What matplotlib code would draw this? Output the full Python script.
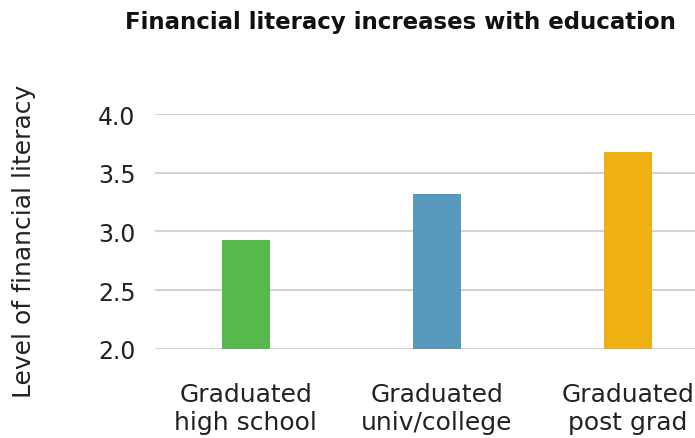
import matplotlib.pyplot as plt

plt.rcParams["font.family"] = ["DejaVu Sans"]

categories = ["Graduated\nhigh school", "Graduated\nuniv/college", "Graduated\npost grad"]
values = [2.93, 3.32, 3.68]
colors = ["#57b84b", "#5899be", "#eeb111"]
yticks = [2.0, 2.5, 3.0, 3.5, 4.0]

fig = plt.figure(figsize=(6.95, 4.39), dpi=100)
ax = fig.add_axes([0.223, 0.2034, 0.777, 0.5346])

x = range(len(categories))
ax.bar(x, values, width=0.25, color=colors, zorder=3)

ax.set_ylim(2.0, 4.0)
ax.set_xlim(-0.476, 2.351)
ax.set_yticks(yticks)
ax.set_yticklabels([f"{t:.1f}" for t in yticks], fontsize=17, color="#222222")
ax.tick_params(axis="y", length=0, pad=14)
ax.grid(axis="y", color="#d3d3d3", linewidth=1.5, zorder=0)
ax.set_axisbelow(True)

ax.set_xticks(list(x))
ax.set_xticklabels(categories, fontsize=18, color="#222222", linespacing=1.2)
ax.tick_params(axis="x", length=0, pad=24)

for s in ax.spines.values():
    s.set_visible(False)

fig.text(0.035, 0.45, "Level of financial literacy", rotation=90,
         ha="center", va="center", fontsize=18, color="#222222")
fig.text(0.576, 0.948, "Financial literacy increases with education",
         ha="center", va="center", fontsize=16.5, fontweight="bold", color="#111111")

fig.savefig("out.png", dpi=100)
